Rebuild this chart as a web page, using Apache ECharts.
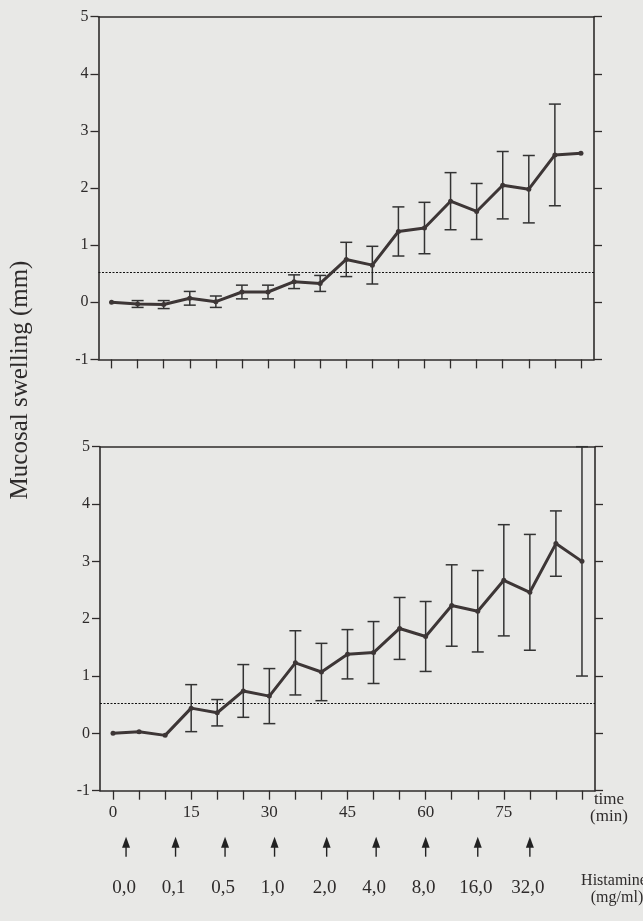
<!DOCTYPE html>
<html>
<head>
<meta charset="utf-8">
<script src="https://cdn.jsdelivr.net/npm/echarts@6/dist/echarts.min.js"></script>
<style>
html,body{margin:0;padding:0;background:#e8e8e6;}
#chart{width:643px;height:921px;}
</style>
</head>
<body>
<div id="chart"></div>
<script>
// ---- data ----
const times = [0,5,10,15,20,25,30,35,40,45,50,55,60,65,70,75,80,85,90];
const topMean = [0,-0.03,-0.04,0.07,0.01,0.18,0.18,0.36,0.33,0.75,0.65,1.24,1.30,1.77,1.59,2.05,1.98,2.58,2.61];
const topErr  = [0,0.06,0.07,0.12,0.10,0.12,0.12,0.12,0.14,0.30,0.33,0.43,0.45,0.50,0.49,0.59,0.59,0.89,0];
const botMean = [0,0.03,-0.035,0.44,0.36,0.74,0.65,1.23,1.07,1.38,1.41,1.83,1.69,2.23,2.13,2.67,2.46,3.31,3.00];
const botErr  = [0,0,0,0.41,0.23,0.46,0.48,0.56,0.50,0.43,0.54,0.54,0.61,0.71,0.71,0.97,1.01,0.57,2.00];
const yTicks = [-1,0,1,2,3,4,5];
const xLabelTimes = [0,15,30,45,60,75];
const arrowTimes = [2.5,12,21.5,31,41,50.5,60,70,80];
const histamineDoses = ['0,0','0,1','0,5','1,0','2,0','4,0','8,0','16,0','32,0'];
const threshold = 0.52;

// ---- style ----
const INK = '#2e2b2b';
const LINE = '#3d3636';
const FONT = '"Liberation Serif", "DejaVu Serif", serif';

const chart = echarts.init(document.getElementById('chart'), null, {renderer:'canvas'});

const grids = [
  {left: 98.5, right: 49, top: 16.7, height: 342.7},
  {left: 100, right: 48, top: 446.7, height: 344}
];

function xAxes(gi, showLabels) {
  return [
    {
      gridIndex: gi, type: 'value', position: 'bottom', min: -2.5, max: 92.5,
      axisLine: {show: true, onZero: false, lineStyle: {color: INK, width: 1.6}},
      axisTick: {show: true, inside: false, length: 9, customValues: times, lineStyle: {color: INK, width: 1.3}},
      axisLabel: {show: showLabels, customValues: xLabelTimes, margin: 13, fontFamily: FONT, fontSize: 17, color: INK},
      splitLine: {show: false}
    },
    {
      gridIndex: gi, type: 'value', position: 'top', min: -2.5, max: 92.5,
      axisLine: {show: true, onZero: false, lineStyle: {color: INK, width: 1.6}},
      axisTick: {show: false}, axisLabel: {show: false}, splitLine: {show: false}
    }
  ];
}
function yAxes(gi) {
  return [
    {
      gridIndex: gi, type: 'value', position: 'left', min: -1, max: 5, interval: 1,
      axisLine: {show: true, onZero: false, lineStyle: {color: INK, width: 1.6}},
      axisTick: {show: true, length: 8, lineStyle: {color: INK, width: 1.3}},
      axisLabel: {show: true, margin: 10, fontFamily: FONT, fontSize: 16, color: INK},
      splitLine: {show: false}
    },
    {
      gridIndex: gi, type: 'value', position: 'right', min: -1, max: 5, interval: 1,
      axisLine: {show: true, onZero: false, lineStyle: {color: INK, width: 1.6}},
      axisTick: {show: true, length: 8, lineStyle: {color: INK, width: 1.3}},
      axisLabel: {show: false}, splitLine: {show: false}
    }
  ];
}

function lineSeries(xi, yi, mean) {
  return {
    type: 'line', xAxisIndex: xi, yAxisIndex: yi,
    data: times.map((t, i) => [t, mean[i]]),
    symbol: 'circle', symbolSize: 5,
    lineStyle: {color: LINE, width: 3},
    itemStyle: {color: LINE},
    z: 5, silent: true,
    markLine: {
      silent: true, symbol: 'none', label: {show: false},
      lineStyle: {color: '#111', width: 1.2, type: [2, 1.5]},
      data: [{yAxis: threshold}]
    }
  };
}
function errSeries(xi, yi, mean, err) {
  const d = [];
  times.forEach((t, i) => { if (err[i] > 0) d.push([t, mean[i] - err[i], mean[i] + err[i]]); });
  return {
    type: 'custom', xAxisIndex: xi, yAxisIndex: yi, z: 4, silent: true,
    data: d,
    renderItem: function (params, api) {
      const lo = api.coord([api.value(0), api.value(1)]);
      const hi = api.coord([api.value(0), api.value(2)]);
      const w = 6;
      const st = {stroke: '#333', lineWidth: 1.5};
      return {type: 'group', children: [
        {type: 'line', shape: {x1: lo[0], y1: lo[1], x2: hi[0], y2: hi[1]}, style: st},
        {type: 'line', shape: {x1: lo[0] - w, y1: lo[1], x2: lo[0] + w, y2: lo[1]}, style: st},
        {type: 'line', shape: {x1: hi[0] - w, y1: hi[1], x2: hi[0] + w, y2: hi[1]}, style: st}
      ]};
    }
  };
}
function arrowSeries(xi, yi) {
  return {
    type: 'custom', xAxisIndex: xi, yAxisIndex: yi, clip: false, silent: true,
    data: arrowTimes.map((t, i) => [t, i]),
    renderItem: function (params, api) {
      const p = api.coord([api.value(0), -1]);
      const x = p[0], base = p[1];
      const tip = base + 46, headEnd = base + 57, tail = base + 66;
      return {type: 'group', children: [
        {type: 'line', shape: {x1: x, y1: headEnd - 1, x2: x, y2: tail}, style: {stroke: '#222', lineWidth: 1.4}},
        {type: 'polygon', shape: {points: [[x, tip], [x - 4, headEnd], [x + 4, headEnd]]}, style: {fill: '#222'}},
        {type: 'text', x: x - 2, y: base + 97, style: {text: histamineDoses[params.dataIndex], font: '19px ' + FONT, fill: INK, align: 'center', verticalAlign: 'middle'}}
      ]};
    }
  };
}

const option = {
  backgroundColor: '#e8e8e6',
  animation: false,
  grid: grids,
  xAxis: [...xAxes(0, false), ...xAxes(1, true)],
  yAxis: [...yAxes(0), ...yAxes(1)],
  series: [
    errSeries(0, 0, topMean, topErr),
    lineSeries(0, 0, topMean),
    errSeries(2, 2, botMean, botErr),
    lineSeries(2, 2, botMean),
    arrowSeries(2, 2)
  ],
  graphic: [
    {type: 'text', x: 20, y: 380, rotation: Math.PI / 2,
     style: {text: 'Mucosal swelling (mm)', font: '25px ' + FONT, fill: INK, align: 'center', verticalAlign: 'middle'}},
    {type: 'text', x: 609, y: 800, style: {text: 'time', font: '17px ' + FONT, fill: INK, align: 'center', verticalAlign: 'middle'}},
    {type: 'text', x: 609, y: 817, style: {text: '(min)', font: '17px ' + FONT, fill: INK, align: 'center', verticalAlign: 'middle'}},
    {type: 'text', x: 614, y: 881, style: {text: 'Histamine', font: '16px ' + FONT, fill: INK, align: 'center', verticalAlign: 'middle'}},
    {type: 'text', x: 617, y: 898, style: {text: '(mg/ml)', font: '16px ' + FONT, fill: INK, align: 'center', verticalAlign: 'middle'}}
  ]
};
chart.setOption(option);
</script>
</body>
</html>
